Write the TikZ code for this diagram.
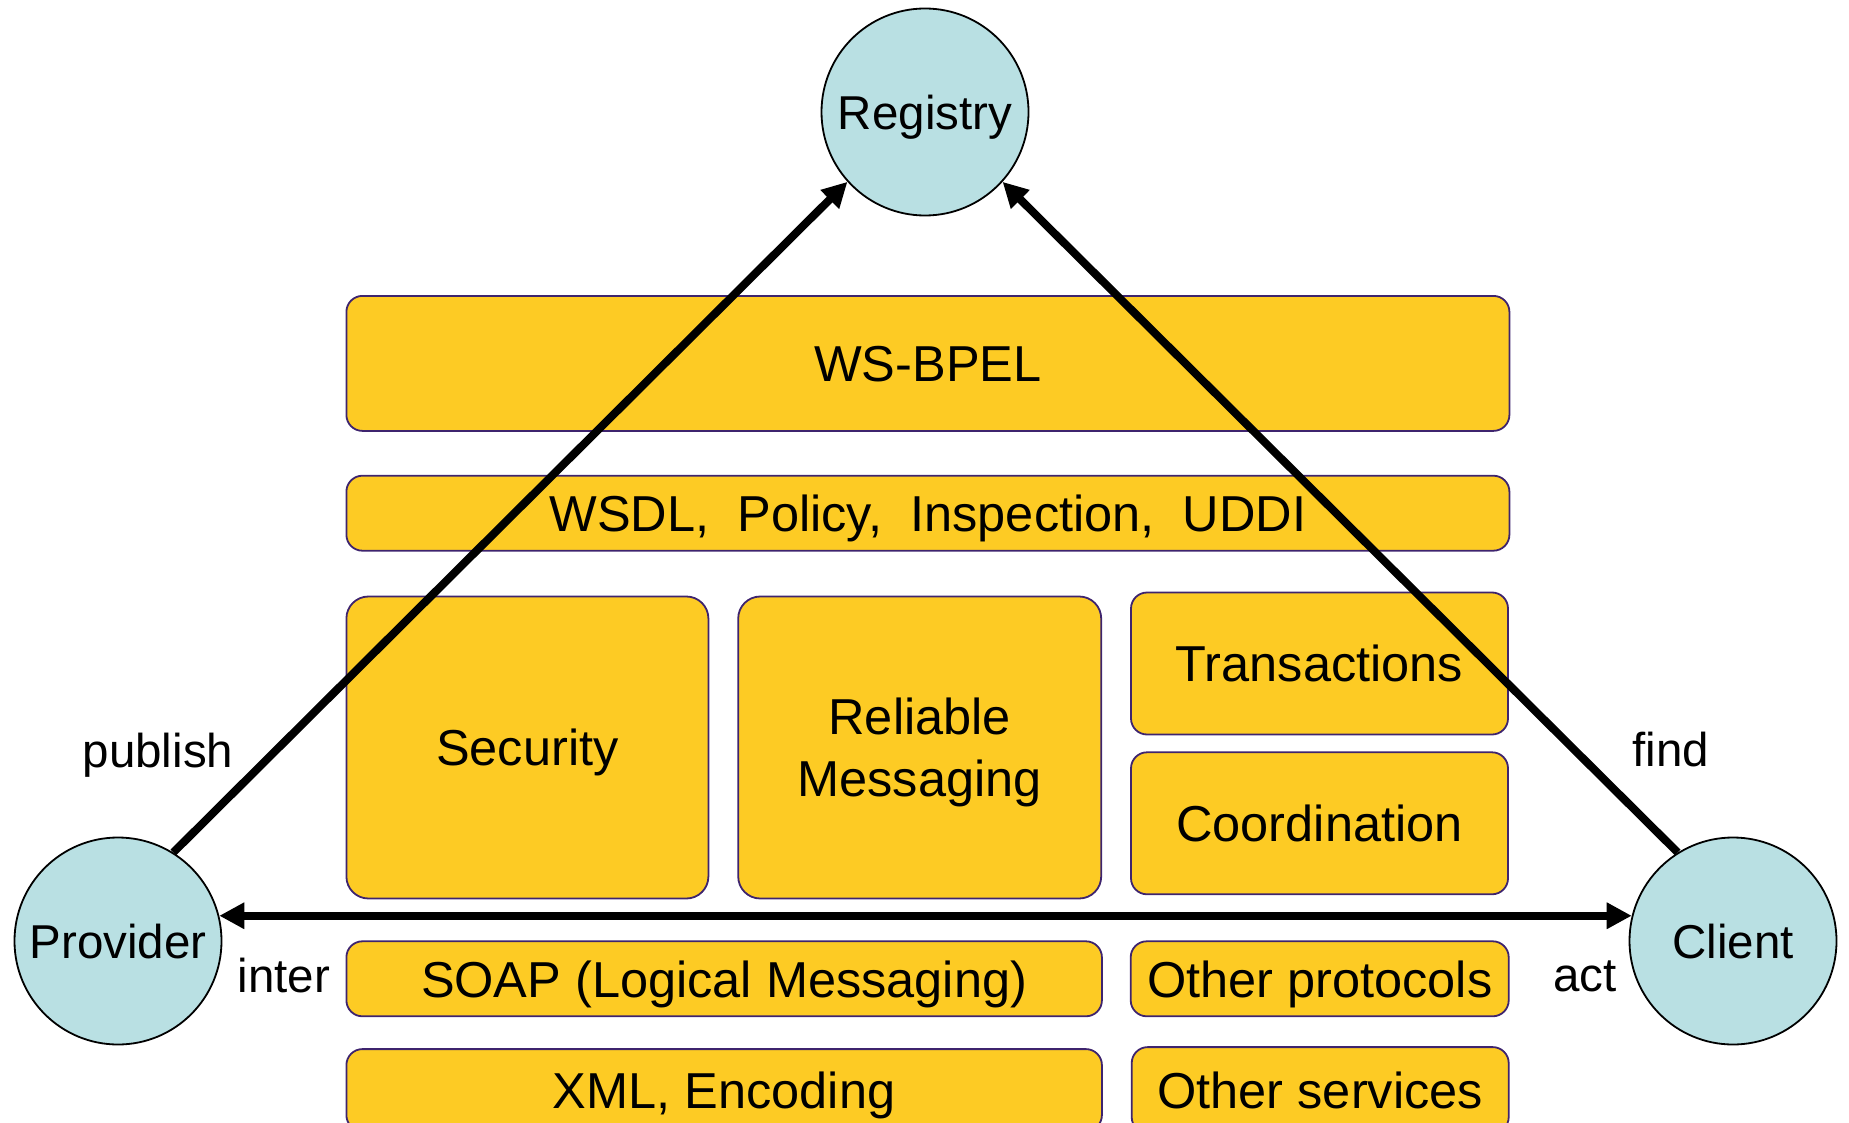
\documentclass[tikz,border=0pt]{standalone}
\usepackage{fontspec}
\setmainfont{Liberation Sans}
\usetikzlibrary{arrows.meta,calc,positioning}
\definecolor{lyr}{RGB}{253,203,36}
\definecolor{lyredge}{RGB}{62,36,110}
\definecolor{rl}{RGB}{185,224,227}

\begin{document}
\begin{tikzpicture}[
      x=1pt, y=-1pt,
      font=\fontsize{47.5}{57}\selectfont,
      >={Triangle[length=25pt,width=25pt]},
      layer/.style={rounded corners=16pt, draw=lyredge, line width=1.8pt, fill=lyr, inner sep=0pt, text depth=0pt, align=center, font=\fontsize{50.5}{62}\selectfont},
      bigbox/.style={layer, rounded corners=22pt},
      role/.style={circle, draw=black, line width=1.8pt, fill=rl, minimum size=207pt, inner sep=0pt, text depth=0pt},
      link/.style={line width=8pt},
]

\useasboundingbox (0,0) rectangle (1849,1123);
\clip (0,0) rectangle (1849,1123);

\node[layer, anchor=north west, minimum width=1163pt, minimum height=135pt] (bpel) at (345.5,295) {WS-BPEL};
\node[layer, below=43pt of bpel, minimum width=1163pt, minimum height=75pt] (wsdl) {WSDL,\ \ Policy,\ \ Inspection,\ \ UDDI};

\node[bigbox, below=44pt of wsdl.south west, anchor=north west, minimum width=362pt, minimum height=302pt] (security) {Security};
\node[bigbox, right=28pt of security, minimum width=363pt, minimum height=302pt] (reliable) {Reliable\\Messaging};
\node[layer, anchor=north west, minimum width=377pt, minimum height=142pt] (transactions) at ($(reliable.north east)+(28pt,4pt)$) {Transactions};
\node[layer, below=16pt of transactions, minimum width=377pt, minimum height=142pt] (coordination) {Coordination};

\node[layer, below=41pt of security.south west, anchor=north west, minimum width=755.5pt, minimum height=75pt] (soap) {SOAP (Logical Messaging)};
\node[layer, right=27pt of soap, minimum width=378pt, minimum height=75pt] (protocols) {Other protocols};
\node[layer, below=31pt of soap.south west, anchor=north west, minimum width=755.5pt, minimum height=82pt] (xml) {XML, Encoding};
\node[layer, right=28pt of xml, minimum width=377pt, minimum height=86pt] (services) {Other services};

\node[role] (registry) at (925,112) {Registry};
\node[role] (provider) at (118,941) {Provider};
\node[role] (client) at (1733,941) {Client};

\draw[link,->] (provider.58) -- (registry.222);
\draw[link,->] (client.122) -- (registry.318);
\draw[link,<->] (provider.14) -- (client.166);

\node[text depth=0pt] (publish) at (158,750) {publish};
\node (find) at (1671,750) {find};
\node (inter) at (284,976) {inter};
\node (act) at (1585,976) {act};

\end{tikzpicture}
\end{document}
